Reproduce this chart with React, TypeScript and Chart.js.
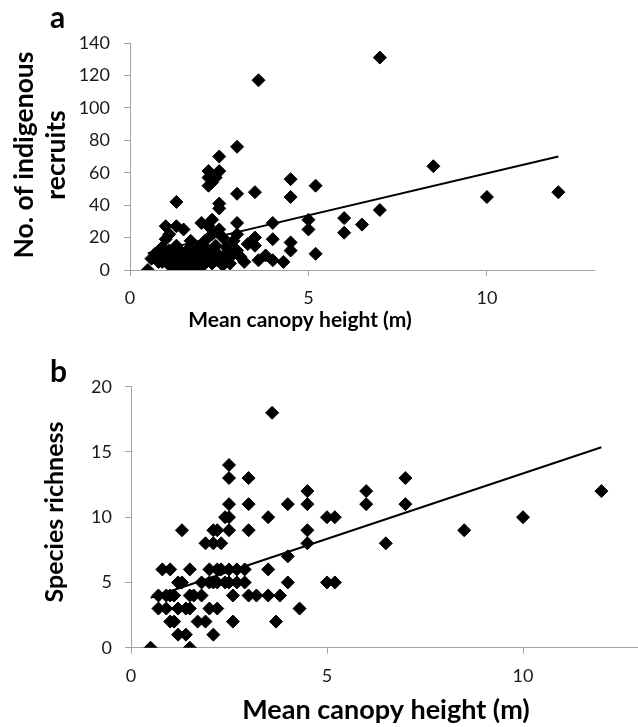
import React, { useEffect, useRef } from "react";
import { Chart, registerables } from "chart.js";

Chart.register(...registerables);

// ---------- Panel a: No. of indigenous recruits vs mean canopy height ----------
const heightA = [
  0.5, 0.6, 0.8, 0.9, 1.0, 1.0, 1.0, 1.1, 1.1, 1.2, 1.2, 1.3, 1.3, 1.3, 1.4, 1.4,
  1.5, 1.5, 1.5, 1.6, 1.7, 1.7, 1.8, 1.9, 1.9, 2.0, 2.0, 2.0, 2.1, 2.1, 2.2, 2.2,
  2.2, 2.2, 2.2, 2.3, 2.3, 2.3, 2.3, 2.4, 2.4, 2.5, 2.5, 2.5, 2.5, 2.5, 2.5, 2.6,
  2.6, 2.7, 2.7, 2.8, 2.9, 3.0, 3.0, 3.0, 3.0, 3.0, 3.1, 3.2, 3.3, 3.5, 3.5, 3.5,
  3.6, 3.6, 3.8, 4.0, 4.0, 4.0, 4.3, 4.5, 4.5, 4.5, 4.5, 5.0, 5.0, 5.2, 5.2, 6.0,
  6.0, 6.5, 7.0, 7.0, 8.5, 10, 12,
  0.7, 0.8, 0.9, 1.1, 1.2, 1.3, 1.4, 1.6, 1.7, 1.8, 1.9, 2.0, 2.1, 2.2, 2.3, 2.4,
  2.6, 2.8, 2.9,
];
const recruits = [
  0, 7, 11, 5, 27, 19, 8, 3, 12, 6, 10, 42, 27, 15, 2, 8,
  25, 5, 0, 12, 18, 4, 8, 3, 14, 29, 10, 2, 6, 18, 61, 57,
  52, 27, 12, 54, 31, 22, 4, 57, 15, 61, 70, 41, 38, 25, 9, 20,
  3, 14, 6, 10, 18, 76, 47, 29, 22, 12, 8, 5, 16, 48, 20, 15,
  117, 6, 9, 29, 19, 6, 5, 56, 45, 17, 12, 31, 25, 52, 10, 32,
  23, 28, 37, 131, 64, 45, 48,
  10, 5, 14, 22, 2, 6, 12, 7, 10, 2, 8, 14, 4, 8, 12, 6,
  8, 4, 10,
];
const trendAX = [0.5, 12];
const trendAY = [10.4, 70];

// ---------- Panel b: Species richness vs mean canopy height ----------
const heightB = [
  0.5, 1.5,
  1.2, 1.4, 2.1,
  1.0, 1.1, 1.7, 1.9, 2.6, 3.7,
  0.7, 0.9, 1.2, 1.4, 1.5, 2.0, 2.2, 4.3,
  0.7, 0.9, 1.0, 1.1, 1.5, 1.6, 1.8, 2.6, 3.0, 3.2, 3.5, 3.8,
  1.2, 1.3, 1.8, 2.0, 2.1, 2.2, 2.4, 2.5, 2.7, 2.9, 4.0, 5.0, 5.2,
  0.8, 1.0, 1.5, 2.0, 2.2, 2.3, 2.5, 2.7, 2.9, 3.5,
  4.0,
  1.9, 2.1, 2.3, 4.5, 6.5,
  1.3, 2.1, 2.2, 2.5, 3.0, 4.5, 8.5,
  2.4, 2.5, 3.5, 5.0, 5.2, 10,
  2.5, 3.0, 4.0, 4.5, 6.0, 7.0,
  4.5, 6.0, 12,
  2.5, 3.0, 7.0,
  2.5,
  3.6,
];
const richness = [
  0, 0,
  1, 1, 1,
  2, 2, 2, 2, 2, 2,
  3, 3, 3, 3, 3, 3, 3, 3,
  4, 4, 4, 4, 4, 4, 4, 4, 4, 4, 4, 4,
  5, 5, 5, 5, 5, 5, 5, 5, 5, 5, 5, 5, 5,
  6, 6, 6, 6, 6, 6, 6, 6, 6, 6,
  7,
  8, 8, 8, 8, 8,
  9, 9, 9, 9, 9, 9, 9,
  10, 10, 10, 10, 10, 10,
  11, 11, 11, 11, 11, 11,
  12, 12, 12,
  13, 13, 13,
  14,
  18,
];
const trendBX = [0.5, 12];
const trendBY = [3.83, 15.36];

const xTickStep = 5;
const xMax = 13;
const yMaxA = 140;
const yStepA = 20;
const yMaxB = 20;
const yStepB = 5;

const FONT = "Lato, 'Open Sans', 'DejaVu Sans', sans-serif";
const AXIS_GRAY = "#a3a3a3";

type TextItem = {
  text: string;
  x: number;
  y: number;
  font: string;
  align: CanvasTextAlign;
  rotate?: boolean;
};

function textPlugin(items: TextItem[]) {
  return {
    id: "panelTexts",
    afterDraw(chart: any) {
      const ctx: CanvasRenderingContext2D = chart.ctx;
      items.forEach((it) => {
        ctx.save();
        ctx.font = it.font;
        ctx.fillStyle = "#000";
        ctx.textAlign = it.align;
        ctx.textBaseline = "alphabetic";
        ctx.translate(it.x, it.y);
        if (it.rotate) ctx.rotate(-Math.PI / 2);
        ctx.fillText(it.text, 0, 0);
        ctx.restore();
      });
    },
  };
}

type PanelCfg = {
  xs: number[];
  ys: number[];
  tx: number[];
  ty: number[];
  yMax: number;
  yStep: number;
  width: number;
  height: number;
  pad: { left: number; right: number; top: number };
  yAxisWidth: number;
  xAxisHeight: number;
  xPad: number;
  yPad: number;
  texts: TextItem[];
};

function buildChart(canvas: HTMLCanvasElement, cfg: PanelCfg) {
  const points = cfg.xs.map((x, i) => ({ x, y: cfg.ys[i] }));
  const trend = cfg.tx.map((x, i) => ({ x, y: cfg.ty[i] }));
  return new Chart(canvas, {
    type: "scatter",
    data: {
      datasets: [
        {
          data: trend,
          showLine: true,
          borderColor: "#000",
          borderWidth: 2,
          pointRadius: 0,
          fill: false,
          order: 0,
        } as any,
        {
          data: points,
          pointStyle: "rectRot",
          pointRadius: 6.5,
          pointBackgroundColor: "#000",
          pointBorderColor: "#000",
          pointBorderWidth: 1,
          showLine: false,
          order: 1,
        } as any,
      ],
    },
    options: {
      animation: false,
      responsive: false,
      maintainAspectRatio: false,
      events: [],
      layout: { padding: { left: cfg.pad.left, right: cfg.pad.right, top: cfg.pad.top, bottom: 0 } },
      plugins: { legend: { display: false }, tooltip: { enabled: false }, title: { display: false } },
      scales: {
        x: {
          type: "linear",
          min: 0,
          max: xMax,
          ticks: {
            stepSize: xTickStep,
            includeBounds: false,
            font: { family: FONT, size: 18 },
            color: "#1a1a1a",
            padding: cfg.xPad,
            maxRotation: 0,
          },
          grid: { display: true, drawOnChartArea: false, drawTicks: true, tickLength: 6, color: AXIS_GRAY },
          border: { display: true, color: AXIS_GRAY, width: 1 },
          afterFit: (s: any) => {
            s.height = cfg.xAxisHeight;
          },
        },
        y: {
          type: "linear",
          min: 0,
          max: cfg.yMax,
          ticks: {
            stepSize: cfg.yStep,
            font: { family: FONT, size: 18 },
            color: "#1a1a1a",
            padding: cfg.yPad,
          },
          grid: { display: true, drawOnChartArea: false, drawTicks: true, tickLength: 6, color: AXIS_GRAY },
          border: { display: true, color: AXIS_GRAY, width: 1 },
          afterFit: (s: any) => {
            s.width = cfg.yAxisWidth;
          },
        },
      },
    },
    plugins: [textPlugin(cfg.texts)],
  } as any);
}

const panelA: PanelCfg = {
  xs: heightA,
  ys: recruits,
  tx: trendAX,
  ty: trendAY,
  yMax: yMaxA,
  yStep: yStepA,
  width: 638,
  height: 345,
  pad: { left: 0, right: 44, top: 43 },
  yAxisWidth: 130,
  xAxisHeight: 75,
  xPad: 11,
  yPad: 14,
  texts: [
    { text: "a", x: 50, y: 28, font: `bold 30px ${FONT}`, align: "left" },
    { text: "No. of indigenous", x: 33, y: 155, font: `bold 26.5px ${FONT}`, align: "center", rotate: true },
    { text: "recruits", x: 65, y: 155, font: `bold 26.5px ${FONT}`, align: "center", rotate: true },
    { text: "Mean canopy height (m)", x: 300, y: 327, font: `bold 21px ${FONT}`, align: "center" },
  ],
};

const panelB: PanelCfg = {
  xs: heightB,
  ys: richness,
  tx: trendBX,
  ty: trendBY,
  yMax: yMaxB,
  yStep: yStepB,
  width: 660,
  height: 382,
  pad: { left: 0, right: 19.4, top: 41.7 },
  yAxisWidth: 131,
  xAxisHeight: 79.3,
  xPad: 12,
  yPad: 13,
  texts: [
    { text: "b", x: 50, y: 37, font: `bold 30px ${FONT}`, align: "left" },
    { text: "Species richness", x: 63, y: 167, font: `bold 25px ${FONT}`, align: "center", rotate: true },
    { text: "Mean canopy height (m)", x: 386, y: 374, font: `bold 27px ${FONT}`, align: "center" },
  ],
};

function Panel({ cfg, top }: { cfg: PanelCfg; top: number }) {
  const ref = useRef<HTMLCanvasElement | null>(null);
  useEffect(() => {
    if (!ref.current) return;
    const chart = buildChart(ref.current, cfg);
    return () => chart.destroy();
  }, [cfg]);
  return (
    <canvas
      ref={ref}
      width={cfg.width}
      height={cfg.height}
      style={{ position: "absolute", left: 0, top, width: cfg.width, height: cfg.height, display: "block" }}
    />
  );
}

export default function App() {
  useEffect(() => {
    document.body.style.margin = "0";
    document.body.style.overflow = "hidden";
  }, []);
  return (
    <div
      style={{
        position: "absolute",
        left: 0,
        top: 0,
        width: 638,
        height: 727,
        overflow: "hidden",
        background: "#fff",
      }}
    >
      <Panel cfg={panelA} top={0} />
      <Panel cfg={panelB} top={345} />
    </div>
  );
}
